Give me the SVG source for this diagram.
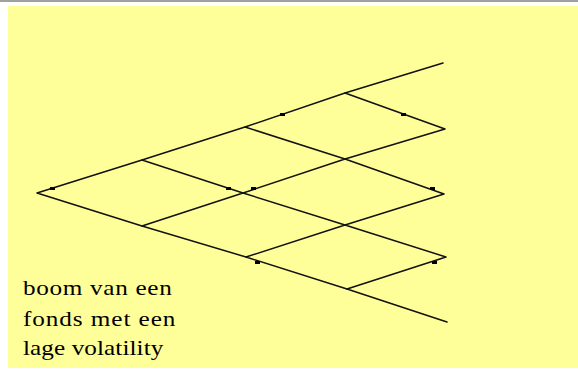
<svg xmlns="http://www.w3.org/2000/svg" width="578" height="369" viewBox="0 0 578 369">
<style>
.e{stroke:#111;stroke-width:1.5;fill:none;stroke-linecap:round;stroke-linejoin:round}
.d{fill:#000}
.t{font-family:"Liberation Serif","Times New Roman",serif;font-size:21px;fill:#000}
</style>
<rect x="0" y="0" width="578" height="369" fill="#fff"/>
<rect x="0" y="0" width="578" height="2" fill="#a0a0a0"/>
<rect x="8" y="6" width="570" height="362" fill="#ffff99"/>
<g id="connectors">
<path class="e" d="M142,160 L37,193 L142,226"/>
<path class="e" d="M245,127 L142,160 L243,193 L142,226 L246,257"/>
<path class="e" d="M345,93 L245,127 L345,159 L243,193 L345,225 L246,257 L347,289"/>
<path class="e" d="M443,63 L345,93 L445,129 L345,159 L444,194 L345,225 L446,257 L347,289 L447,322"/>
</g>
<g id="dots">
<rect class="d" x="50" y="187" width="5" height="3"/>
<rect class="d" x="226" y="187" width="5" height="3"/>
<rect class="d" x="251" y="187" width="5" height="3"/>
<rect class="d" x="280" y="113" width="5" height="3"/>
<rect class="d" x="401" y="113" width="5" height="3"/>
<rect class="d" x="430" y="187" width="5" height="3"/>
<rect class="d" x="255" y="261" width="5" height="3"/>
<rect class="d" x="432" y="261" width="5" height="3"/>
</g>
<g id="label">
<text class="t" transform="translate(23,295) scale(1.2,1)" textLength="124" lengthAdjust="spacing">boom van een</text>
<text class="t" transform="translate(23,326) scale(1.2,1)" textLength="127" lengthAdjust="spacing">fonds met een</text>
<text class="t" transform="translate(23,355) scale(1.2,1)" textLength="117" lengthAdjust="spacing">lage volatility</text>
</g>
</svg>
